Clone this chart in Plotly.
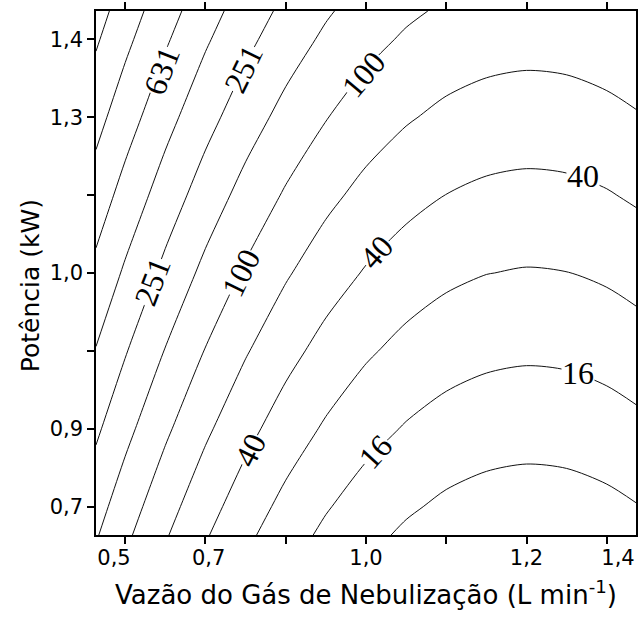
import plotly.graph_objects as go

# Coded factor levels (-alpha .. +alpha) of the central composite design
U_GRID = [-1.682, -1.5, -1.25, -1.0, -0.75, -0.5, -0.25, 0.0, 0.25, 0.5, 0.75, 1.0, 1.25, 1.5, 1.682]
V_GRID = [-1.682, -1.5, -1.0, -0.5, 0.0, 0.5, 1.0, 1.5, 1.682]

# log10 of the response (rows = V_GRID, cols = U_GRID)
LOG_RESPONSE = [
    [2.217, 2.040, 1.818, 1.618, 1.442, 1.289, 1.159, 1.052, 0.969, 0.908, 0.871, 0.856, 0.865, 0.897, 0.935],
    [2.274, 2.097, 1.875, 1.675, 1.499, 1.346, 1.216, 1.109, 1.026, 0.965, 0.928, 0.913, 0.922, 0.954, 0.992],
    [2.433, 2.256, 2.034, 1.834, 1.658, 1.505, 1.375, 1.268, 1.185, 1.124, 1.087, 1.072, 1.081, 1.113, 1.151],
    [2.591, 2.414, 2.192, 1.992, 1.816, 1.663, 1.533, 1.426, 1.343, 1.282, 1.245, 1.230, 1.239, 1.271, 1.309],
    [2.749, 2.572, 2.350, 2.150, 1.974, 1.821, 1.691, 1.584, 1.501, 1.440, 1.403, 1.388, 1.397, 1.429, 1.467],
    [2.907, 2.730, 2.508, 2.308, 2.132, 1.979, 1.849, 1.742, 1.659, 1.598, 1.561, 1.546, 1.555, 1.587, 1.625],
    [3.066, 2.889, 2.667, 2.467, 2.291, 2.138, 2.008, 1.901, 1.818, 1.757, 1.720, 1.705, 1.714, 1.746, 1.784],
    [3.224, 3.047, 2.825, 2.625, 2.449, 2.296, 2.166, 2.059, 1.976, 1.915, 1.878, 1.863, 1.872, 1.904, 1.942],
    [3.281, 3.104, 2.882, 2.682, 2.506, 2.353, 2.223, 2.116, 2.033, 1.972, 1.935, 1.920, 1.929, 1.961, 1.999],
]

# contour levels in log10 units
LEVEL_START = 1.0
LEVEL_END = 3.2
LEVEL_STEP = 0.2

# tick marks (coded) and the real-unit labels
TICKS = [-1.5, -1.0, -0.5, 0.0, 0.5, 1.0, 1.5]
X_LABEL_POS = [-1.57, -0.98, 0.0, 1.0, 1.57]
X_LABELS = ["0,5", "0,7", "1,0", "1,2", "1,4"]
Y_LABELS = ["0,7", "0,9", "", "1,0", "", "1,3", "1,4"]

# which level gets a label (same order as LABEL_PLACES below)
LABEL_LEVELS = [2.8, 2.4, 2.0, 1.6, 2.4, 2.0, 1.6, 1.6, 1.2, 1.2]

# where each label sits (coded u, coded v, rotation)
LABEL_PLACES = [
    (-1.273, 1.295, -69),
    (-0.765, 1.312, -64),
    (-0.016, 1.280, -50),
    (1.354, 0.622, 0),
    (-1.330, -0.060, -69),
    (-0.780, 0.000, -64),
    (-0.722, -1.135, -63),
    (0.064, 0.137, -48),
    (0.055, -1.146, -48),
    (1.319, -0.643, 0),
]

ALPHA = 1.682
SANS = "DejaVu Sans"
SERIF = "Liberation Serif, Times New Roman, serif"
TICK_FONT = dict(family=SANS, size=21, color="black")

fig = go.Figure()
fig.add_trace(
    go.Contour(
        x=U_GRID,
        y=V_GRID,
        z=LOG_RESPONSE,
        contours=dict(
            start=LEVEL_START,
            end=LEVEL_END,
            size=LEVEL_STEP,
            coloring="lines",
            showlabels=False,
        ),
        colorscale=[[0, "#111111"], [1, "#111111"]],
        showscale=False,
        line=dict(width=1, smoothing=0.8),
        hoverinfo="skip",
    )
)
# empty trace so the label-only overlay axis gets drawn
fig.add_trace(go.Scatter(x=[], y=[], xaxis="x2", yaxis="y", showlegend=False))

for lvl, (u, v, ang) in zip(LABEL_LEVELS, LABEL_PLACES):
    fig.add_annotation(
        x=u,
        y=v,
        xref="x",
        yref="y",
        text=f"{10 ** lvl:.0f}",
        showarrow=False,
        textangle=ang,
        font=dict(family=SERIF, size=32, color="black"),
        bgcolor="white",
        borderpad=0,
    )

# y title sits a bit below the axis centre in the original, so place it by hand
fig.add_annotation(
    text="Potência (kW)",
    xref="paper",
    yref="paper",
    x=-0.122,
    y=0.475,
    xanchor="center",
    yanchor="middle",
    textangle=-90,
    showarrow=False,
    font=dict(family=SANS, size=25, color="black"),
)

fig.update_layout(
    width=638,
    height=619,
    margin=dict(l=96, r=0, t=11, b=84),
    paper_bgcolor="white",
    plot_bgcolor="white",
    showlegend=False,
    xaxis=dict(
        range=[-ALPHA, ALPHA],
        showgrid=False,
        zeroline=False,
        tickvals=TICKS,
        ticktext=[" "] * len(TICKS),
        ticks="outside",
        ticklen=7,
        tickwidth=1.5,
        tickcolor="black",
        tickfont=TICK_FONT,
        showline=True,
        linecolor="black",
        linewidth=1.5,
        mirror="ticks",
        title=dict(
            text="Vazão do Gás de Nebulização (L min<sup>-1</sup>)",
            font=dict(family=SANS, size=26, color="black"),
            standoff=13,
        ),
    ),
    xaxis2=dict(
        range=[-ALPHA, ALPHA],
        showgrid=False,
        zeroline=False,
        tickvals=X_LABEL_POS,
        ticktext=X_LABELS,
        ticks="outside",
        ticklen=4,
        tickcolor="rgba(0,0,0,0)",
        tickfont=TICK_FONT,
        overlaying="x",
        anchor="y",
        side="bottom",
        showline=False,
    ),
    yaxis=dict(
        range=[-ALPHA, ALPHA],
        showgrid=False,
        zeroline=False,
        tickvals=TICKS,
        ticktext=Y_LABELS,
        ticks="outside",
        ticklen=7,
        tickwidth=1.5,
        tickcolor="black",
        tickfont=TICK_FONT,
        showline=True,
        linecolor="black",
        linewidth=1.5,
        mirror=True,
    ),
)

# drop the page's default body margin so the figure sits at the window origin
fig.write_html(
    "out.html",
    config={"displayModeBar": False},
    post_script="document.body.style.margin='0';document.body.style.overflow='hidden';",
)
